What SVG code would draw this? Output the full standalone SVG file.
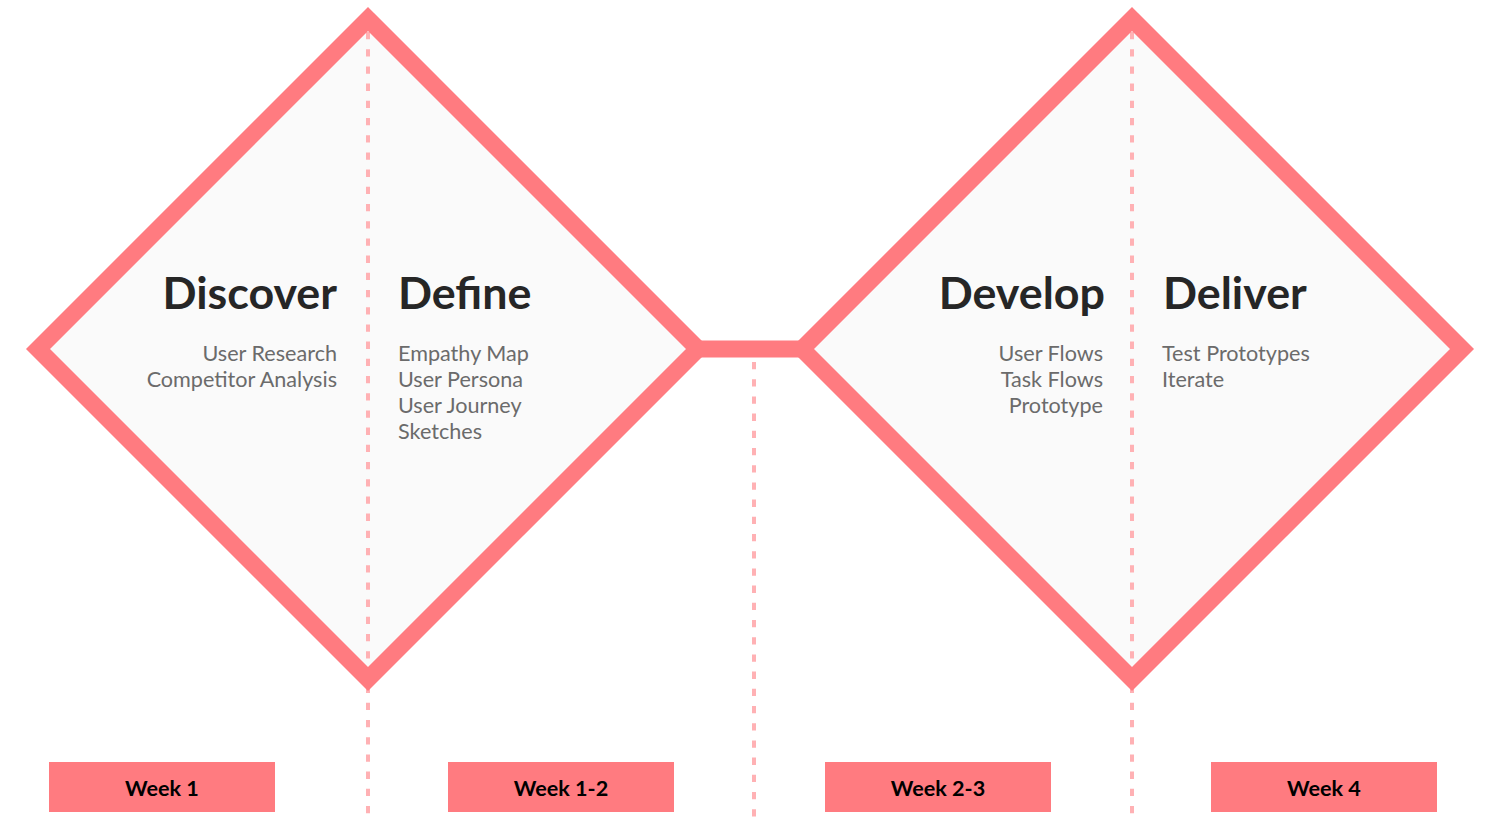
<svg xmlns="http://www.w3.org/2000/svg" width="1500" height="818" viewBox="0 0 1500 818">
  <style>
    .frame { fill: none; stroke: #FF7B80; stroke-width: 17; stroke-linejoin: miter; stroke-miterlimit: 10; }
    .inner { fill: #FAFAFA; stroke: none; }
    .guide { stroke: #FFB1B4; stroke-width: 4; stroke-dasharray: 7.3 9.9; fill: none; }
    .title { font-family: Lato, "Open Sans", sans-serif; font-weight: 700; font-size: 44.8px; fill: #262626; }
    .item { font-family: Lato, "Open Sans", sans-serif; font-weight: 400; font-size: 21.6px; fill: #6B6B6B; }
    .week rect { fill: #FF7B80; }
    .week text { font-family: Lato, "Open Sans", sans-serif; font-weight: 700; font-size: 21.6px; fill: #000000; text-anchor: middle; }
    .end { text-anchor: end; }
  </style>
  <rect width="1500" height="818" fill="#FFFFFF"/>

  <!-- diamond interiors -->
  <polygon class="inner" points="368,19 698,349 368,679 38,349"/>
  <polygon class="inner" points="1132,19 1462,349 1132,679 802,349"/>

  <!-- dashed phase dividers -->
  <g id="connectors">
    <line class="guide" x1="368" y1="32" x2="368" y2="818"/>
    <line class="guide" x1="754" y1="362" x2="754" y2="818"/>
    <line class="guide" x1="1132" y1="32" x2="1132" y2="818"/>
    <!-- link between the two diamonds -->
    <rect x="696" y="340.5" width="108" height="17" fill="#FF7B80"/>
  </g>

  <!-- diamond outlines -->
  <g id="diamond-left">
    <polygon class="frame" points="368,19 698,349 368,679 38,349"/>
  </g>
  <g id="diamond-right">
    <polygon class="frame" points="1132,19 1462,349 1132,679 802,349"/>
  </g>

  <g id="discover">
    <text class="title end" x="337" y="309">Discover</text>
    <text class="item end" x="337" y="361">User Research</text>
    <text class="item end" x="337" y="387">Competitor Analysis</text>
  </g>
  <g id="define">
    <text class="title" x="398" y="309">Define</text>
    <text class="item" x="398" y="361">Empathy Map</text>
    <text class="item" x="398" y="387">User Persona</text>
    <text class="item" x="398" y="413">User Journey</text>
    <text class="item" x="398" y="439">Sketches</text>
  </g>
  <g id="develop">
    <text class="title end" x="1105" y="309">Develop</text>
    <text class="item end" x="1103" y="361">User Flows</text>
    <text class="item end" x="1103" y="387">Task Flows</text>
    <text class="item end" x="1103" y="413">Prototype</text>
  </g>
  <g id="deliver">
    <text class="title" x="1163" y="309">Deliver</text>
    <text class="item" x="1162" y="361">Test Prototypes</text>
    <text class="item" x="1162" y="387">Iterate</text>
  </g>

  <g id="week-1" class="week">
    <rect x="49" y="762" width="226" height="50"/>
    <text x="162" y="796">Week 1</text>
  </g>
  <g id="week-1-2" class="week">
    <rect x="448" y="762" width="226" height="50"/>
    <text x="561" y="796">Week 1-2</text>
  </g>
  <g id="week-2-3" class="week">
    <rect x="825" y="762" width="226" height="50"/>
    <text x="938" y="796">Week 2-3</text>
  </g>
  <g id="week-4" class="week">
    <rect x="1211" y="762" width="226" height="50"/>
    <text x="1324" y="796">Week 4</text>
  </g>
</svg>
